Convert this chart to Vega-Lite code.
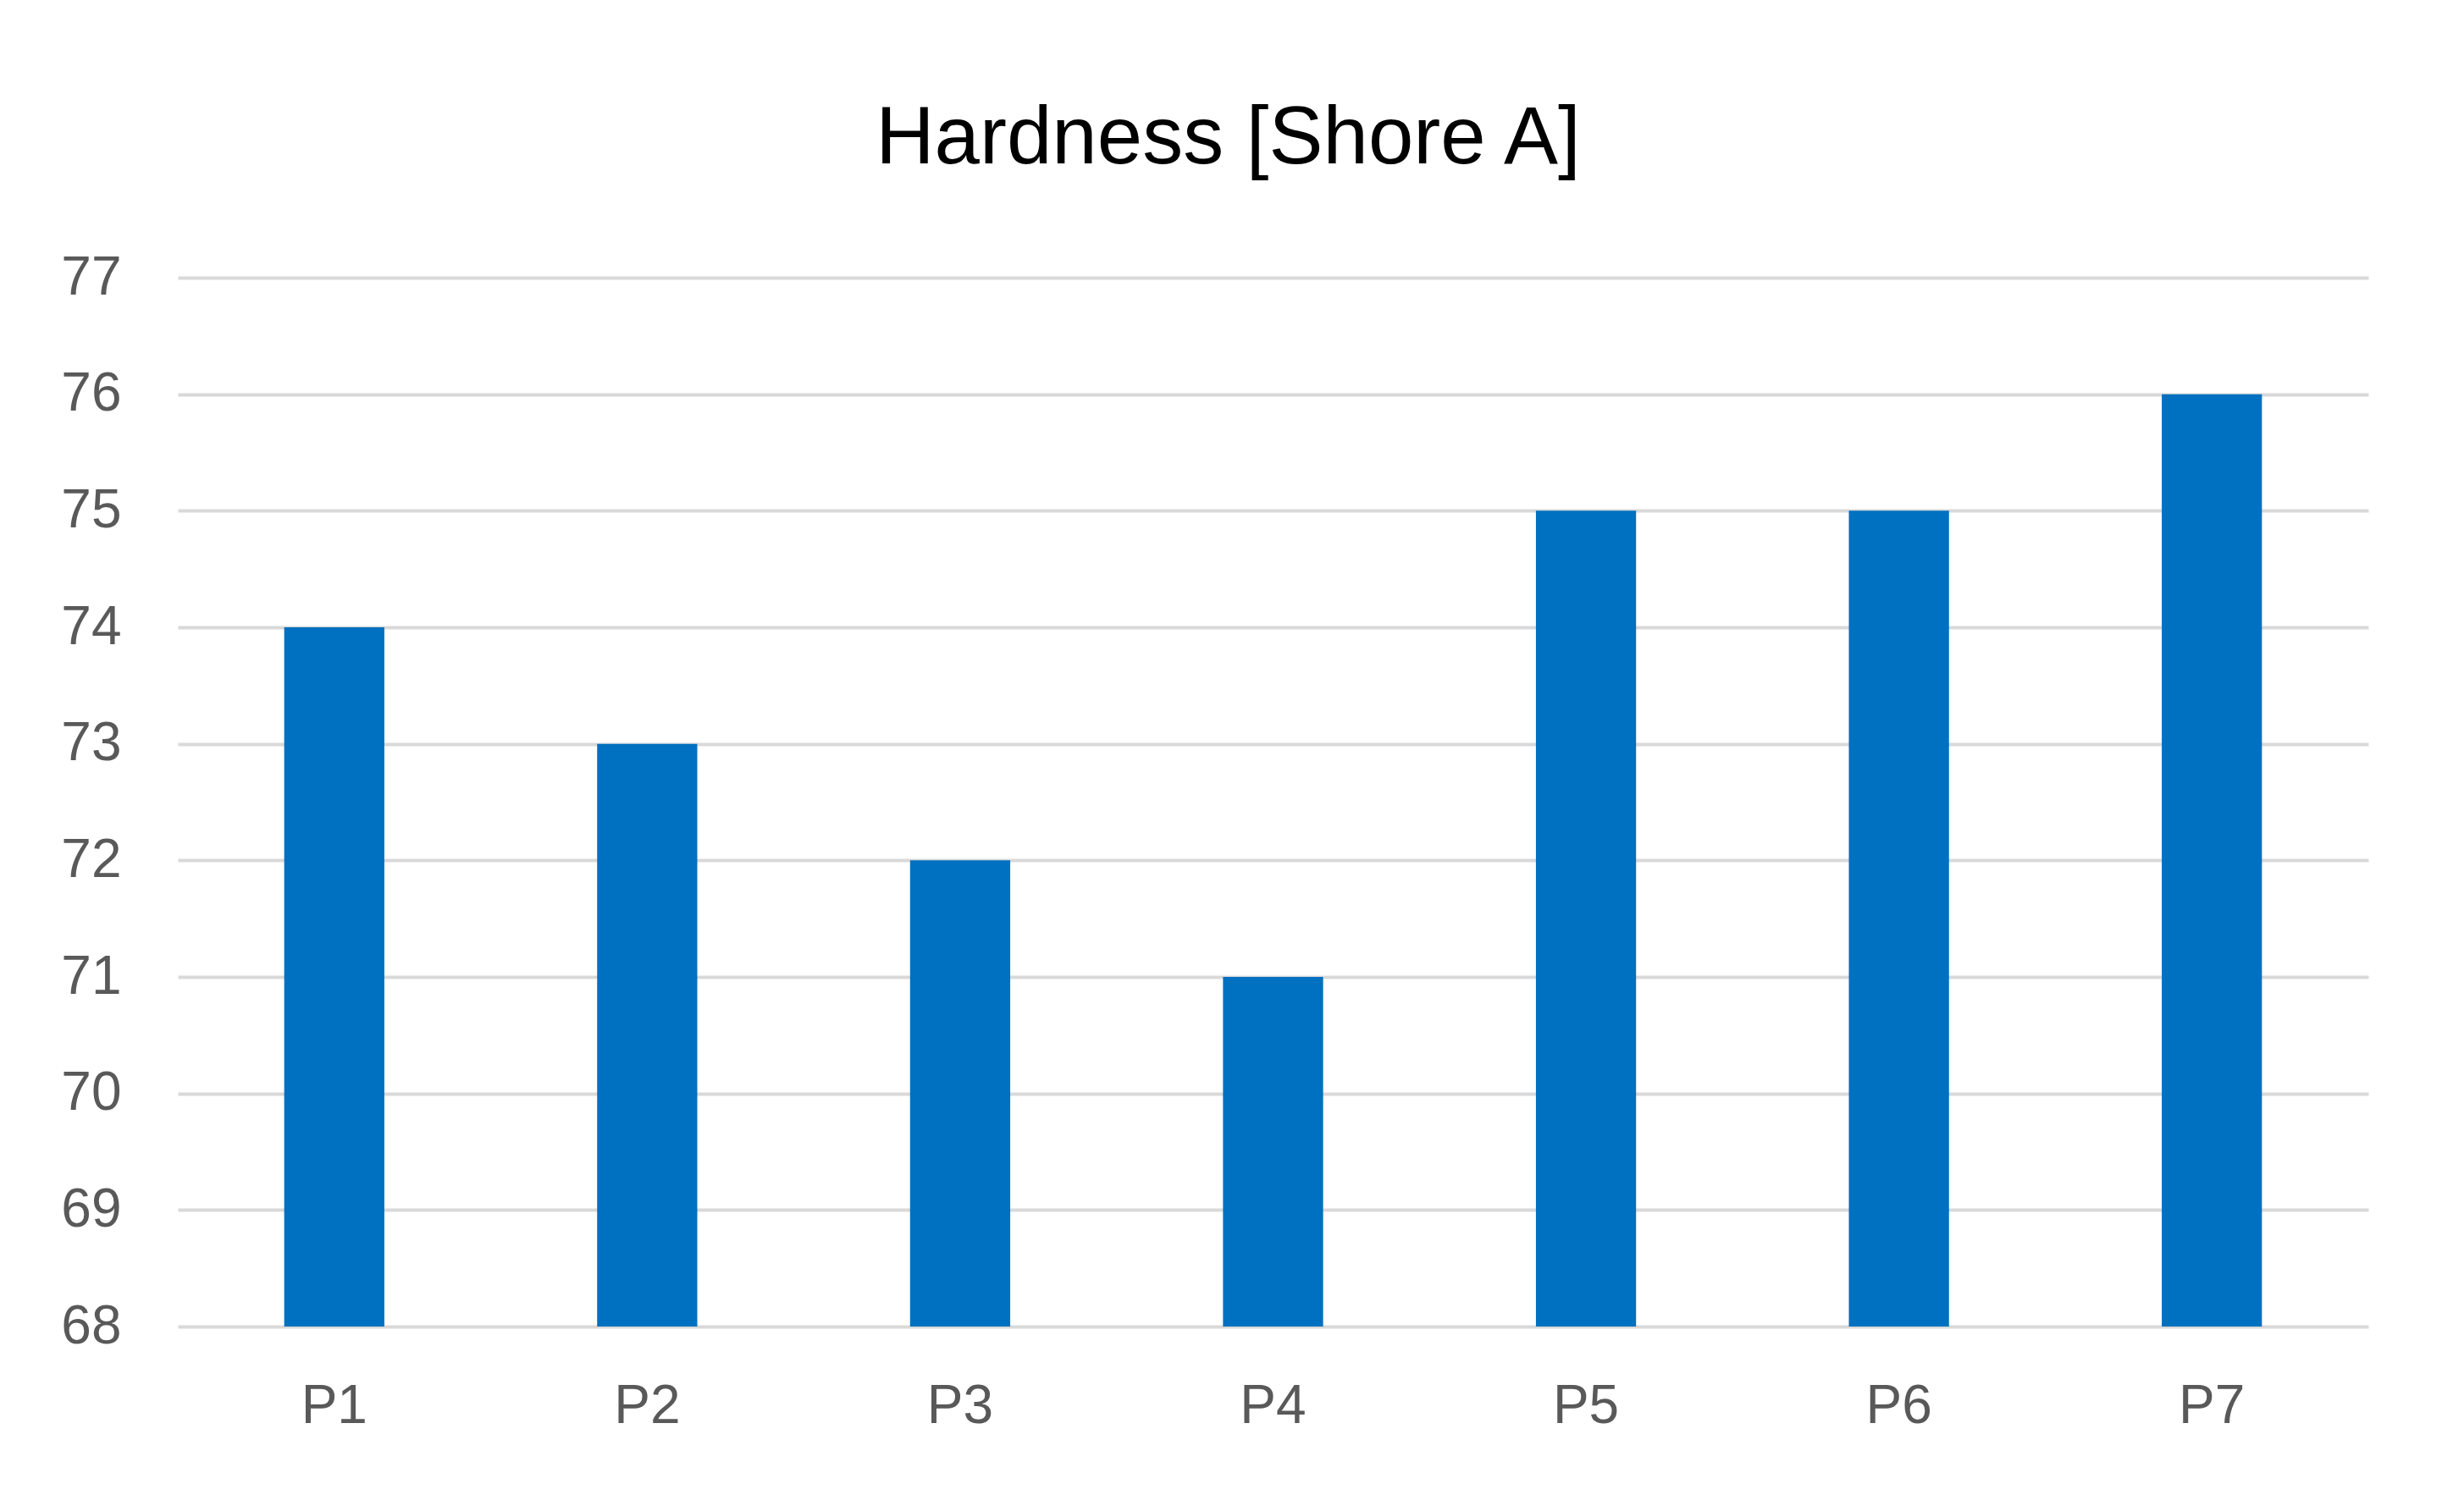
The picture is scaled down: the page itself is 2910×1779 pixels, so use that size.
{
  "$schema": "https://vega.github.io/schema/vega-lite/v6.json",
  "autosize": "none",
  "width": 2587,
  "height": 1239,
  "padding": {"left": 210, "top": 328, "right": 113, "bottom": 212},
  "background": "white",
  "title": {
    "text": "Hardness [Shore A]",
    "font": "Liberation Sans",
    "fontSize": 96,
    "fontWeight": "normal",
    "color": "#000000",
    "anchor": "middle",
    "frame": "group",
    "baseline": "alphabetic",
    "offset": 7,
    "dx": -53
  },
  "data": {
    "values": [
      {"sample": "P1", "hardness": 74},
      {"sample": "P2", "hardness": 73},
      {"sample": "P3", "hardness": 72},
      {"sample": "P4", "hardness": 71},
      {"sample": "P5", "hardness": 75},
      {"sample": "P6", "hardness": 75},
      {"sample": "P7", "hardness": 76}
    ]
  },
  "mark": {"type": "bar", "color": "#0070C0"},
  "encoding": {
    "x": {
      "field": "sample",
      "type": "nominal",
      "sort": null,
      "scale": {"paddingInner": 0.68, "paddingOuter": 0.34},
      "axis": {
        "title": null,
        "labelAngle": 0,
        "labelFont": "Liberation Sans",
        "labelFontSize": 64,
        "labelColor": "#595959",
        "labelPadding": 62,
        "domain": false,
        "ticks": false,
        "grid": false
      }
    },
    "y": {
      "field": "hardness",
      "type": "quantitative",
      "scale": {"domain": [68, 77], "zero": false, "nice": false},
      "axis": {
        "title": null,
        "values": [68, 69, 70, 71, 72, 73, 74, 75, 76, 77],
        "labelFont": "Liberation Sans",
        "labelFontSize": 64,
        "labelColor": "#595959",
        "labelPadding": 67,
        "domain": false,
        "ticks": false,
        "grid": true,
        "gridColor": "#d9d9d9",
        "gridWidth": 4
      }
    },
    "y2": {"datum": 68}
  },
  "config": {
    "view": {"stroke": null}
  }
}
